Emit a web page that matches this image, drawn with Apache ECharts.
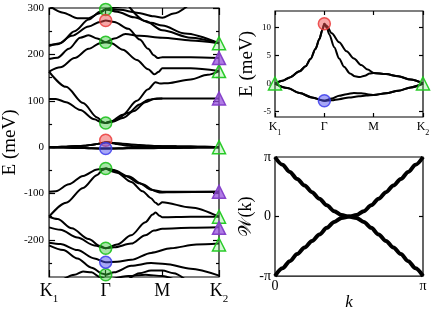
<!DOCTYPE html>
<html><head><meta charset="utf-8">
<script src="https://cdn.jsdelivr.net/npm/echarts@6/dist/echarts.min.js"></script>
<style>html,body{margin:0;padding:0;background:#fff}#c{width:440px;height:312px}</style>
</head><body><div id="c"></div>
<script>
// ---------- k-path and tick data ----------
const kPoints = [0, 1, 2, 3];
const kLabels = ['K1', 'Γ', 'M', 'K2'];
const mainMajorTicks = [-200, -100, 0, 100, 200, 300];
const mainMinorTicks = [-250, -150, -50, 50, 150, 250];
const zoomTicks = [-5, 0, 5, 10];
const wilsonTickValues = [-1, 0, 1];
const wilsonTickLabels = ['-π', '0', 'π'];
const wilsonXValues = [0, 1];
const wilsonXLabels = ['0', 'π'];

// ---------- band structure (meV), left panel ----------
const bandU1 = [[0,104],[0.12,104],[0.3,97],[0.55,80],[0.8,60],[0.93,53],[1,52],[1.12,55],[1.3,63],[1.5,78],[1.7,97],[1.85,104],[2,105],[2.5,105],[3,105]];
const bandU2 = [[0,163],[0.3,130],[0.6,95],[0.85,64],[0.95,54],[1,52],[1.08,54],[1.3,70],[1.55,100],[1.75,125],[1.88,140],[1.96,137],[2.1,138],[2.5,146],[2.8,156],[3,164]];
const bandU3 = [[1,52],[1.15,57],[1.4,74],[1.6,92],[1.75,102],[1.9,105],[2,105]];
const bandU4 = [[0,163],[0.2,172],[0.45,192],[0.7,212],[0.9,224],[1,226],[1.1,224],[1.3,210],[1.55,188],[1.75,168],[1.86,157],[1.93,162],[2,170],[2.5,170],[3,164]];
const bandU5 = [[0,190],[0.15,193],[0.35,212],[0.55,236],[0.7,241],[0.85,234],[1,226],[1.15,234],[1.35,244],[1.6,240],[2,236],[2.5,230],[3,224]];
const bandU6 = [[0,220],[0.15,222],[0.4,240],[0.7,260],[0.9,270],[1,273],[1.15,270],[1.4,255],[1.6,232],[1.75,212],[1.85,198],[1.92,192],[2,194],[2.5,194],[3,192]];
const bandU7 = [[0,218],[0.2,224],[0.45,250],[0.7,275],[0.9,292],[1,297],[1.2,292],[1.5,280],[1.8,268],[2,262],[2.4,245],[3,224]];
const bandU8 = [[0,305],[0.25,290],[0.5,278],[0.7,278],[0.88,288],[1,297],[1.25,296],[1.55,290],[1.85,282],[2,279],[2.2,288],[2.45,305]];
const bandU9 = [[1,297],[1.3,303],[1.5,307]];
const bandU10 = [[1.4,305],[1.7,272],[2,252],[2.5,236],[3,224]];
const bandL1 = [[0,-96],[0.12,-95],[0.35,-80],[0.6,-62],[0.85,-48],[1,-46],[1.15,-50],[1.4,-63],[1.65,-80],[1.85,-93],[2,-96],[2.5,-96],[3,-96]];
const bandL2 = [[0,-150],[0.3,-120],[0.6,-88],[0.85,-60],[0.95,-49],[1,-46],[1.1,-48],[1.35,-62],[1.6,-78],[1.8,-92],[1.95,-98],[2.2,-97],[3,-96]];
const bandL3 = [[1,-46],[1.2,-55],[1.45,-75],[1.65,-95],[1.8,-110],[1.88,-120],[1.93,-124],[2,-119],[2.5,-130],[3,-150]];
const bandL4 = [[0,-173],[0.2,-178],[0.5,-195],[0.8,-212],[1,-218],[1.2,-210],[1.45,-190],[1.7,-162],[1.83,-145],[1.88,-141],[1.95,-148],[2,-151],[2.5,-150],[3,-150]];
const bandL5 = [[0,-150],[0.15,-155],[0.4,-175],[0.7,-198],[0.9,-213],[1,-218],[1.15,-216],[1.45,-208],[1.7,-190],[1.85,-180],[2,-176],[2.5,-174],[3,-173]];
const bandL6 = [[0,-206],[0.2,-209],[0.5,-222],[0.8,-240],[1,-248],[1.2,-247],[1.45,-243],[1.8,-228],[2.15,-218],[2.6,-210],[3,-208]];
const bandL7 = [[0,-212],[0.25,-222],[0.5,-240],[0.75,-260],[0.95,-273],[1,-275],[1.15,-270],[1.45,-256],[1.8,-250],[2.05,-252],[2.5,-262],[3,-277]];
const bandL8 = [[0.25,-285],[0.45,-275],[0.6,-268],[0.75,-270],[0.9,-280],[1,-285]];
const bandL9 = [[1.4,-285],[1.6,-272],[1.8,-266],[2,-266],[2.2,-272],[2.4,-285]];
const bandL10 = [[1.1,-285],[1.4,-278],[1.7,-275],[2,-278],[2.2,-285]];

// ---------- low-energy bands (meV), shown in both panels ----------
const lowUp1 = [[0,0],[0.15,0.5],[0.3,1.1],[0.5,2.2],[0.62,3.1],[0.72,4.4],[0.82,6.2],[0.9,8.0],[0.96,9.6],[1,10.7],[1.05,10.0],[1.1,8.8],[1.2,6.5],[1.3,4.5],[1.4,3.0],[1.52,1.8],[1.62,1.3],[1.72,1.15],[1.82,1.4],[1.92,1.8],[2,1.9],[2.25,1.7],[2.5,1.3],[2.75,0.7],[3,0]];
const lowUp2 = [[0,0],[0.15,0.5],[0.3,1.1],[0.5,2.2],[0.62,3.1],[0.72,4.4],[0.82,6.2],[0.9,8.0],[0.96,9.6],[1,10.7],[1.05,10.3],[1.15,9.0],[1.3,7.4],[1.45,5.8],[1.6,4.5],[1.75,3.3],[1.88,2.5],[2,1.9],[2.25,1.7],[2.5,1.3],[2.75,0.7],[3,0]];
const lowDn1 = [[0,0],[0.25,-0.8],[0.5,-1.7],[0.75,-2.5],[1,-3.1],[1.15,-2.7],[1.3,-2.2],[1.45,-1.9],[1.6,-1.7],[1.75,-1.75],[1.9,-1.95],[2,-2.05],[2.25,-1.75],[2.5,-1.3],[2.75,-0.7],[3,0]];
const lowDn2 = [[0,0],[0.25,-0.8],[0.5,-1.7],[0.75,-2.5],[1,-3.1],[1.15,-3.0],[1.3,-2.8],[1.5,-2.5],[1.7,-2.3],[1.85,-2.15],[2,-2.05],[2.25,-1.75],[2.5,-1.3],[2.75,-0.7],[3,0]];

// ---------- degeneracy markers ----------
const greenGamma = [297, 226, 52, -46, -218, -275];
const redGamma = [273, 15];
const blueGamma = [-3, -248];
const greenK2 = [224, 164, 0, -150, -210];
const purpleK2 = [192, 105, -96, -174];
const zoomRedGamma = [10.7];
const zoomBlueGamma = [-3.1];
const zoomGreenEnds = [[0, 0], [3, 0]];

// ---------- Wilson loop (k and W in units of π) ----------
const wilsonK = [0,0.05,0.1,0.15,0.2,0.25,0.3,0.35,0.4,0.45,0.5,0.55,0.6,0.65,0.7,0.75,0.8,0.85,0.9,0.95,1];
const wilsonA = [1,0.87,0.75,0.63,0.52,0.41,0.3,0.19,0.09,0.025,0,-0.025,-0.09,-0.19,-0.3,-0.41,-0.52,-0.63,-0.75,-0.87,-1];
const wilsonB = [-1,-0.87,-0.75,-0.63,-0.52,-0.41,-0.3,-0.19,-0.09,-0.025,0,0.025,0.09,0.19,0.3,0.41,0.52,0.63,0.75,0.87,1];

// ---------- chart ----------
const serif = 'Liberation Serif';
const chart = echarts.init(document.getElementById('c'));

function kFmt(v) {
  const i = kPoints.indexOf(v);
  const l = kLabels[i] || '';
  if (l.charAt(0) === 'K') return '{a|K}{s|' + l.slice(1) + '}';
  return '{a|' + l + '}';
}
const richBig = {
  a: {fontFamily: serif, fontSize: 18, lineHeight: 28, color: '#000'},
  s: {fontFamily: serif, fontSize: 11, lineHeight: 11, color: '#000', verticalAlign: 'bottom'}
};
const richSmall = {
  a: {fontFamily: serif, fontSize: 12, lineHeight: 20, color: '#000'},
  s: {fontFamily: serif, fontSize: 8, lineHeight: 8, color: '#000', verticalAlign: 'bottom'}
};
const tickStyle = {color: '#000', width: 1.2};

function band(data, xi, yi, w) {
  return {type: 'line', data: data, xAxisIndex: xi, yAxisIndex: yi, symbol: 'none', showSymbol: false,
    smooth: 0.3, smoothMonotone: 'x', lineStyle: {color: '#000', width: w}, silent: true, z: 2};
}
function mark(data, xi, yi, symbol, size, fill, stroke) {
  return {type: 'scatter', data: data, xAxisIndex: xi, yAxisIndex: yi, symbol: symbol, symbolSize: size,
    clip: false, silent: true, z: 5, itemStyle: {color: fill, borderColor: stroke, borderWidth: 1.5, opacity: 1}};
}
const G_FILL = 'rgba(60,200,60,0.45)', G_LINE = 'rgba(20,190,20,0.85)';
const R_FILL = 'rgba(240,80,80,0.5)', R_LINE = 'rgba(235,60,60,0.85)';
const B_FILL = 'rgba(80,80,240,0.5)', B_LINE = 'rgba(60,60,235,0.85)';
const T_FILL = 'rgba(120,230,120,0.3)', T_LINE = 'rgba(30,200,30,0.95)';
const P_FILL = 'rgba(150,80,220,0.75)', P_LINE = 'rgba(130,60,200,0.95)';

function yAx(gi, min, max, pos, ticks, len, labels, extra) {
  return Object.assign({
    gridIndex: gi, type: 'value', min: min, max: max, position: pos,
    axisLine: {show: false, onZero: false}, splitLine: {show: false},
    axisTick: {show: true, inside: true, length: len, customValues: ticks, lineStyle: tickStyle},
    axisLabel: labels ? Object.assign({show: true, customValues: labels.values, color: '#000', fontFamily: serif}, labels.style) : {show: false}
  }, extra || {});
}
function xAx(gi, min, max, pos, ticks, len, labels, extra) {
  return Object.assign({
    gridIndex: gi, type: 'value', min: min, max: max, position: pos,
    axisLine: {show: false, onZero: false}, splitLine: {show: false},
    axisTick: ticks ? {show: true, inside: true, length: len, customValues: ticks, lineStyle: tickStyle} : {show: false},
    axisLabel: labels ? Object.assign({show: true, customValues: labels.values, color: '#000', fontFamily: serif}, labels.style) : {show: false}
  }, extra || {});
}

const gridStyle = {show: true, borderColor: '#000', borderWidth: 1.2, backgroundColor: 'rgba(0,0,0,0)', containLabel: false};

const leftBands = [bandU1, bandU2, bandU3, bandU4, bandU5, bandU6, bandU7, bandU8, bandU9, bandU10,
  bandL1, bandL2, bandL3, bandL4, bandL5, bandL6, bandL7, bandL8, bandL9, bandL10,
  lowUp1, lowUp2, lowDn1, lowDn2];
const zoomBands = [lowUp1, lowUp2, lowDn1, lowDn2];

const series = [];
leftBands.forEach(b => series.push(band(b, 0, 0, 2)));
zoomBands.forEach(b => series.push(band(b, 2, 4, 2)));
series.push(band(wilsonK.map((k, i) => [k, wilsonA[i]]), 4, 6, 4));
series.push(band(wilsonK.map((k, i) => [k, wilsonB[i]]), 4, 6, 4));

series.push(mark(greenGamma.map(e => [1, e]), 0, 0, 'circle', 12, G_FILL, G_LINE));
series.push(mark(redGamma.map(e => [1, e]), 0, 0, 'circle', 12, R_FILL, R_LINE));
series.push(mark(blueGamma.map(e => [1, e]), 0, 0, 'circle', 12, B_FILL, B_LINE));
series.push(mark(greenK2.map(e => [3, e]), 0, 0, 'triangle', 13, T_FILL, T_LINE));
series.push(mark(purpleK2.map(e => [3, e]), 0, 0, 'triangle', 13, P_FILL, P_LINE));
series.push(mark(zoomRedGamma.map(e => [1, e]), 2, 4, 'circle', 12, R_FILL, R_LINE));
series.push(mark(zoomBlueGamma.map(e => [1, e]), 2, 4, 'circle', 12, B_FILL, B_LINE));
series.push(mark(zoomGreenEnds, 2, 4, 'triangle', 13, T_FILL, T_LINE));

const option = {
  animation: false,
  backgroundColor: '#fff',
  grid: [
    Object.assign({left: 45, top: 8, width: 174, height: 269}, gridStyle),
    Object.assign({left: 275, top: 11, width: 148, height: 106}, gridStyle),
    Object.assign({left: 275, top: 157, width: 148, height: 120}, gridStyle)
  ],
  xAxis: [
    xAx(0, 0, 3, 'bottom', kPoints, 7, {values: kPoints, style: {margin: 0, formatter: kFmt, rich: richBig}}),
    xAx(0, 0, 3, 'top', kPoints, 7, null),
    xAx(1, 0, 3, 'bottom', kPoints, 4, {values: kPoints, style: {margin: 0, formatter: kFmt, rich: richSmall}}),
    xAx(1, 0, 3, 'top', kPoints, 4, null),
    xAx(2, 0, 1, 'bottom', null, 0, {values: wilsonXValues, style: {margin: 3, fontSize: 14,
      formatter: v => wilsonXLabels[wilsonXValues.indexOf(v)]}},
      {name: 'k', nameLocation: 'middle', nameGap: -5,
       nameTextStyle: {fontFamily: serif, fontStyle: 'italic', fontSize: 17, color: '#000', verticalAlign: 'top'}})
  ],
  yAxis: [
    yAx(0, -280, 300, 'left', mainMajorTicks, 6, {values: mainMajorTicks, style: {margin: 5, fontSize: 11}},
      {name: 'E (meV)', nameLocation: 'middle', nameGap: 27, nameTextStyle: {fontFamily: serif, fontSize: 19, color: '#000'}}),
    yAx(0, -280, 300, 'left', mainMinorTicks, 3, null),
    yAx(0, -280, 300, 'right', mainMajorTicks, 6, null),
    yAx(0, -280, 300, 'right', mainMinorTicks, 3, null),
    yAx(1, -6, 13, 'left', zoomTicks, 4, {values: zoomTicks, style: {margin: 4, fontSize: 9}},
      {name: 'E (meV)', nameLocation: 'middle', nameGap: 18, nameTextStyle: {fontFamily: serif, fontSize: 19, color: '#000'}}),
    yAx(1, -6, 13, 'right', zoomTicks, 4, null),
    yAx(2, -1, 1, 'left', [0], 4, {values: wilsonTickValues, style: {margin: 4, fontSize: 14,
      formatter: v => wilsonTickLabels[wilsonTickValues.indexOf(v)]}},
      {name: '𝒲(k)', nameLocation: 'middle', nameGap: 16, nameTextStyle: {fontFamily: serif + ', DejaVu Serif, DejaVu Sans', fontSize: 18, color: '#000'}}),
    yAx(2, -1, 1, 'right', [0], 4, null)
  ],
  series: series
};
chart.setOption(option);
</script>
</body></html>
